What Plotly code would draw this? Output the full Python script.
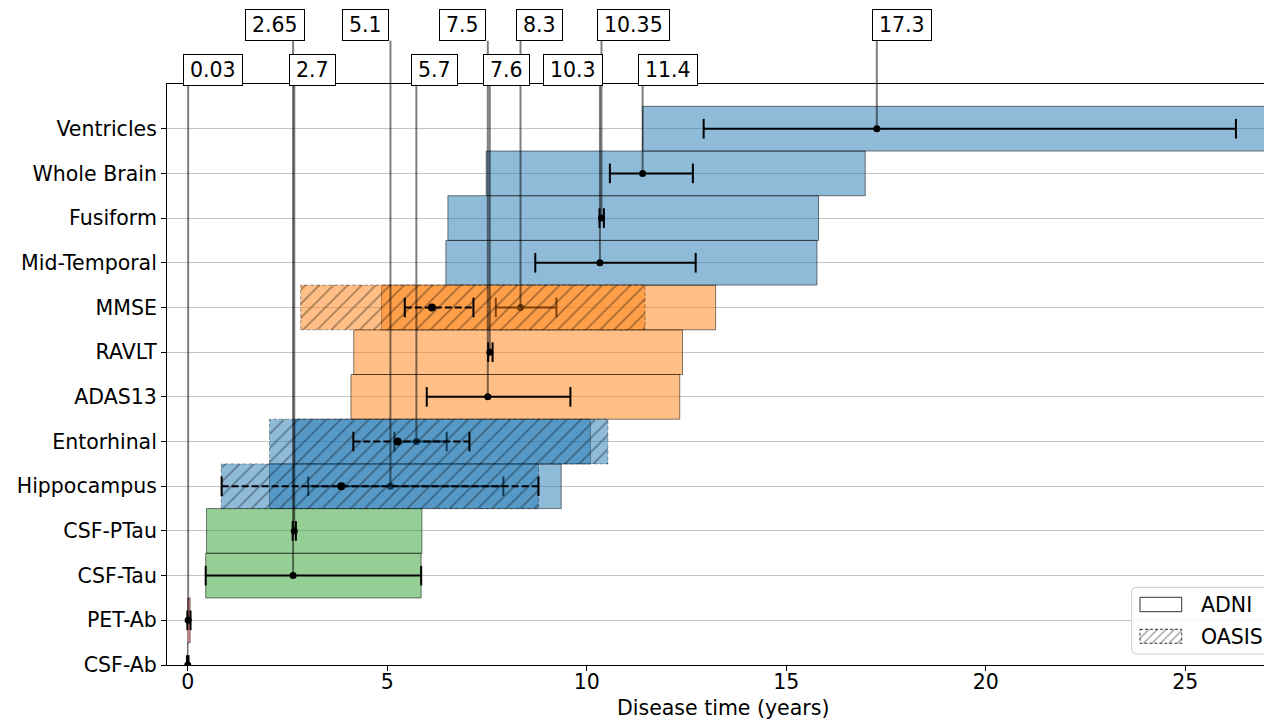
import plotly.graph_objects as go

# ---------------- data ----------------
biomarkers = ['CSF-Ab', 'PET-Ab', 'CSF-Tau', 'CSF-PTau', 'Hippocampus', 'Entorhinal',
              'ADAS13', 'RAVLT', 'MMSE', 'Mid-Temporal', 'Fusiform', 'Whole Brain', 'Ventricles']
groups = ['amyloid', 'amyloid', 'csf', 'csf', 'imaging', 'imaging',
          'cognitive', 'cognitive', 'cognitive', 'imaging', 'imaging', 'imaging', 'imaging']

# ADNI abnormality intervals (years)
adni_start = [0.00, 0.00, 0.45, 0.47, 2.05, 2.68, 4.09, 4.16, 4.86, 6.47, 6.52, 7.48, 11.40]
adni_end   = [0.00, 0.06, 5.85, 5.87, 9.36, 10.09, 12.33, 12.40, 13.23, 15.77, 15.81, 16.98, 28.00]
# ADNI onset estimate with uncertainty
adni_lo  = [-0.02, -0.01, 0.45, 2.63, 3.02, 5.18, 5.99, 7.53, 7.72, 8.71, 10.32, 10.58, 12.93]
adni_mid = [0.00, 0.01, 2.64, 2.67, 5.08, 5.73, 7.52, 7.57, 8.34, 10.33, 10.37, 11.40, 17.27]
adni_hi  = [0.02, 0.07, 5.85, 2.71, 7.91, 6.49, 9.59, 7.64, 9.24, 12.73, 10.43, 12.66, 26.27]

# OASIS
oasis_markers = ['Hippocampus', 'Entorhinal', 'MMSE']
oasis_start = [0.84, 2.05, 2.83]
oasis_end   = [8.79, 10.53, 11.46]
oasis_lo    = [0.85, 4.15, 5.44]
oasis_mid   = [3.85, 5.26, 6.12]
oasis_hi    = [8.79, 7.06, 7.16]

# labelled onset values
label_markers = ['PET-Ab', 'CSF-Tau', 'CSF-PTau', 'Hippocampus', 'Entorhinal', 'ADAS13',
                 'RAVLT', 'MMSE', 'Mid-Temporal', 'Fusiform', 'Whole Brain', 'Ventricles']
label_texts = ['0.03', '2.65', '2.7', '5.1', '5.7', '7.5', '7.6', '8.3', '10.3', '10.35', '11.4', '17.3']
label_upper = [False, True, False, True, False, True, False, True, False, True, False, True]

x_ticks = [0, 5, 10, 15, 20, 25]
x_title = 'Disease time (years)'
legend_names = ['ADNI', 'OASIS']

# ---------------- style ----------------
FONT = 'DejaVu Sans'
FS = 20.5
W, H = 1264, 719
ML, MR, MT, MB = 167, 0, 84, 54
PH = H - MT - MB
COLORS = {'amyloid': 'rgba(214,39,40,0.5)', 'csf': 'rgba(44,160,44,0.5)',
          'imaging': 'rgba(31,119,180,0.5)', 'cognitive': 'rgba(255,127,14,0.5)'}
EDGE = 'rgba(0,0,0,0.5)'
# per-label box placement (anchor, pixel shift of box edge relative to line)
label_anchor = ['left', 'right', 'left', 'right', 'left', 'right', 'left', 'left', 'right', 'left', 'left', 'left']
label_shift = [-5, 12, -5, -1, -5, -2, -7, -5, 3, -5, -5, -5]


def yp(py):
    return (H - MB - py) / PH


def xp(px):
    return (px - ML) / (W - ML - MR)


idx = {b: i for i, b in enumerate(biomarkers)}
fig = go.Figure()

# ADNI bars
fig.add_trace(go.Bar(
    orientation='h', y=list(range(len(biomarkers))),
    x=[e - s for s, e in zip(adni_start, adni_end)], base=adni_start, width=1.0,
    marker=dict(color=[COLORS[g] for g in groups], line=dict(color=EDGE, width=1)),
    showlegend=False, hoverinfo='skip'))


def err_traces(lo, mid, hi, ys, dash, dotsize):
    lx, ly = [], []
    for a, b, y in zip(lo, hi, ys):
        lx += [a, b, None]
        ly += [y, y, None]
    fig.add_trace(go.Scatter(x=lx, y=ly, mode='lines', line=dict(color='black', width=2, dash=dash),
                             showlegend=False, hoverinfo='skip'))
    fig.add_trace(go.Scatter(x=list(lo) + list(hi), y=list(ys) + list(ys), mode='markers',
                             marker=dict(symbol='line-ns', size=14, line=dict(color='black', width=2)),
                             showlegend=False, hoverinfo='skip'))
    fig.add_trace(go.Scatter(x=mid, y=ys, mode='markers',
                             marker=dict(symbol='circle', size=dotsize, color='black'),
                             showlegend=False, hoverinfo='skip'))


err_traces(adni_lo, adni_mid, adni_hi, list(range(len(biomarkers))), 'solid', 7)

# OASIS hatched bars
for m, s, e in zip(oasis_markers, oasis_start, oasis_end):
    i = idx[m]
    fig.add_trace(go.Scatter(
        x=[s, e, e, s, s], y=[i - 0.5, i - 0.5, i + 0.5, i + 0.5, i - 0.5],
        mode='lines', fill='toself', fillcolor=COLORS[groups[i]],
        fillpattern=dict(shape='/', fgcolor='rgba(0,0,0,0.72)', size=10, solidity=0.16, fillmode='overlay'),
        line=dict(color='rgba(0,0,0,0.35)', width=1, dash='4px,2px'),
        showlegend=False, hoverinfo='skip'))

err_traces(oasis_lo, oasis_mid, oasis_hi, [idx[m] for m in oasis_markers], '7px,3px', 8)

# label boxes + lines
shapes = []
annotations = []
for m, t, up, anc, sh in zip(label_markers, label_texts, label_upper, label_anchor, label_shift):
    xv = adni_mid[idx[m]]
    top_px = 40.7 if up else 85.0
    shapes.append(dict(type='line', xref='x', yref='paper', x0=xv, x1=xv,
                       y0=idx[m] / 13.0, y1=yp(top_px),
                       line=dict(color='rgba(0,0,0,0.5)', width=2), layer='above'))
    nd = sum(c.isdigit() for c in t)
    tw = FS * (0.636 * nd + 0.318 * (len(t) - nd))
    annotations.append(dict(
        text=t, xref='x', yref='paper', x=xv, y=yp(25.3 if up else 69.7),
        xanchor=anc, yanchor='middle', xshift=sh, showarrow=False,
        font=dict(family=FONT, size=FS, color='black'),
        bgcolor='white', bordercolor='black', borderwidth=1, borderpad=1,
        width=tw + 10, height=28))

# x-axis title
annotations.append(dict(text=x_title, xref='paper', yref='paper', x=xp(723), y=yp(708),
                        xanchor='center', yanchor='middle', showarrow=False,
                        font=dict(family=FONT, size=FS, color='black')))

# legend (overlay pixel axes)
LX0, LX1, LY0, LY1 = 1131.7, 1290.0, 587.3, 654.0
r = 4
fx = [LX0 + r, LX1, LX1, LX0 + r, LX0 + 1.2, LX0, LX0, LX0 + 1.2, LX0 + r]
fy = [LY0, LY0, LY1, LY1, LY1 - 1.2, LY1 - r, LY0 + r, LY0 + 1.2, LY0]
fig.add_trace(go.Scatter(x=fx, y=fy, xaxis='x2', yaxis='y2', mode='lines', fill='toself',
                         fillcolor='rgba(255,255,255,0.85)', line=dict(color='#cccccc', width=1),
                         showlegend=False, hoverinfo='skip'))
fig.add_trace(go.Scatter(x=[1140, 1181.7, 1181.7, 1140, 1140], y=[597.3, 597.3, 611.7, 611.7, 597.3],
                         xaxis='x2', yaxis='y2', mode='lines', fill='toself', fillcolor='white',
                         line=dict(color='rgba(0,0,0,0.8)', width=1), showlegend=False, hoverinfo='skip'))
fig.add_trace(go.Scatter(x=[1140, 1181.7, 1181.7, 1140, 1140], y=[629.3, 629.3, 643.3, 643.3, 629.3],
                         xaxis='x2', yaxis='y2', mode='lines', fill='toself', fillcolor='white',
                         fillpattern=dict(shape='/', fgcolor='rgba(0,0,0,0.8)', size=6, solidity=0.22,
                                          fillmode='overlay'),
                         line=dict(color='rgba(0,0,0,0.8)', width=1, dash='3px,2px'),
                         showlegend=False, hoverinfo='skip'))
for name, cy in zip(legend_names, [604.5, 636.5]):
    annotations.append(dict(text=name, xref='x2', yref='y2', x=1199, y=cy, xanchor='left',
                            yanchor='middle', showarrow=False,
                            font=dict(family=FONT, size=FS, color='black')))

fig.update_layout(
    width=W, height=H, margin=dict(l=ML, r=MR, t=MT, b=MB, pad=0),
    paper_bgcolor='white', plot_bgcolor='white', barmode='overlay', showlegend=False,
    font=dict(family=FONT, size=FS, color='black'),
    xaxis=dict(range=[-0.52, (W - ML - MR) / 39.9 - 0.52], tickvals=x_ticks, ticktext=[str(v) for v in x_ticks],
               showgrid=False, zeroline=False, showline=True, linecolor='black', linewidth=1,
               mirror=True, ticks='outside', ticklen=5, tickcolor='black', ticklabelstandoff=-7,
               tickfont=dict(family=FONT, size=FS, color='black')),
    yaxis=dict(range=[0, 13], tickvals=list(range(len(biomarkers))), ticktext=biomarkers,
               showgrid=True, gridcolor='#c4c4c4', gridwidth=1, zeroline=False,
               showline=True, linecolor='black', linewidth=1, ticks='outside', ticklen=5,
               tickcolor='black', tickfont=dict(family=FONT, size=FS, color='black')),
    xaxis2=dict(overlaying='x', anchor='y2', range=[ML, W - MR], visible=False),
    yaxis2=dict(overlaying='y', anchor='x2', range=[H - MB, MT], visible=False),
    shapes=shapes, annotations=annotations,
)

fig.write_html('out.html')
